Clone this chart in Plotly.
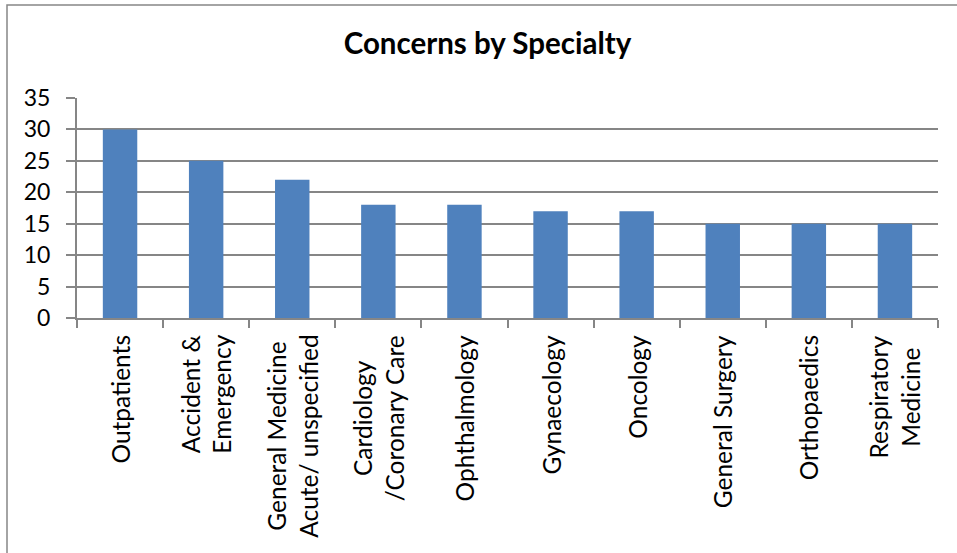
import plotly.graph_objects as go

categories = ["Outpatients", "Accident &<br>Emergency", "General Medicine<br>Acute/ unspecified",
              "Cardiology<br>/Coronary Care", "Ophthalmology", "Gynaecology", "Oncology",
              "General Surgery", "Orthopaedics", "Respiratory<br>Medicine"]
values = [30, 25, 22, 18, 18, 17, 17, 15, 15, 15]
y_ticks = [0, 5, 10, 15, 20, 25, 30, 35]

GRID = "#868686"
FONT = "Lato, Carlito, Calibri, sans-serif"

fig = go.Figure(go.Bar(x=categories, y=values, marker=dict(color="#4F81BD", line=dict(width=0)),
                       width=0.4))

W, H = 957, 553
L, R, T, B = 77, 19, 98, 235
pw = W - L - R
ph = H - T - B

fig.update_layout(
    width=W, height=H,
    margin=dict(l=L, r=R, t=T, b=B, pad=0),
    paper_bgcolor="white", plot_bgcolor="white",
    showlegend=False,
    font=dict(family=FONT, color="black"),
    title=dict(text="<b>Concerns by Specialty</b>", font=dict(size=29.5, family=FONT, color="black"),
               xref="paper", x=(487.5 - L) / pw, xanchor="center",
               yref="container", y=1 - 44 / H, yanchor="middle"),
)
fig.update_yaxes(range=[0, 35], tickvals=y_ticks, showgrid=True, gridcolor=GRID, gridwidth=2,
                 showline=True, linecolor=GRID, linewidth=2, ticks="outside", ticklen=9,
                 tickcolor=GRID, tickwidth=2, tickfont=dict(size=23, family=FONT, color="black"),
                 ticklabelstandoff=11, zeroline=False)
fig.update_xaxes(type="category", showgrid=False, showline=True, linecolor=GRID, linewidth=2,
                 ticks="outside", tickson="boundaries", ticklen=8, tickcolor=GRID, tickwidth=2,
                 showticklabels=False, range=[-0.5, len(categories) - 0.5])

for c in categories:
    fig.add_annotation(x=c, xref="x", y=0, yref="paper", yshift=-15, yanchor="top",
                       xanchor="center", textangle=-90, align="center", showarrow=False,
                       text=c, font=dict(size=24.5, family=FONT, color="black"))

fig.add_shape(type="rect", xref="paper", yref="paper",
              x0=(7 - L) / pw, x1=(W + 20 - L) / pw, y0=-(B + 20) / ph, y1=(H - B - 5) / ph,
              line=dict(color=GRID, width=1.5), fillcolor="rgba(0,0,0,0)", layer="below")

fig.write_html("out.html")
